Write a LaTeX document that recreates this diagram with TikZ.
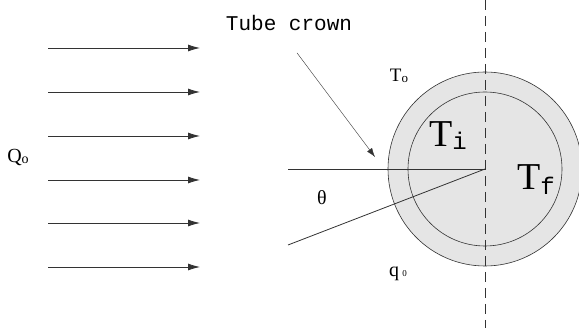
\documentclass[tikz,border=0pt]{standalone}
\usepackage{fontspec}
\setmainfont{Liberation Serif}
\newfontfamily\monofont{Liberation Mono}
\usetikzlibrary{arrows.meta,positioning}

\newcommand{\fsz}[1]{\fontsize{#1}{#1}\selectfont}

\begin{document}
\begin{tikzpicture}[x=1pt,y=-1pt,
    flow/.style={-{Latex[length=12pt,width=7pt]},draw=black!80,thick},
    ray/.style={draw=black!80,thick},
    lbl/.style={inner sep=0pt,font=\fsz{20}}]
  \useasboundingbox (0,0) rectangle (579,328);
  \coordinate (c) at (485,169);
  % tube wall and fluid
  \fill[black!10] (c) circle (97);
  \draw[black!80,semithick] (c) circle (97) (c) circle (77);
  \coordinate (top) at (485,0);
  \coordinate (bot) at (485,328);
  \draw[black!80,semithick,dash pattern=on 10pt off 6pt] (top) -- (bot);
  % incoming solar flux
  \foreach \y [count=\i] in {48,92,136,180,223,267} {
    \coordinate (s\i) at (48,\y);
    \coordinate (e\i) at (200,\y);
    \draw[flow] (s\i) -- (e\i);
  }
  \node[lbl] (Q) at (18,158) {Q\lower1pt\hbox{\fsz{14}o}};
  % angle
  \coordinate (h) at (288,169);
  \coordinate (r) at (288,245);
  \draw[ray] (h) -- (c);
  \draw[ray] (r) -- (c);
  \node[lbl] (theta) at (322,198) {θ};
  % labels
  \node[inner sep=0pt,font=\monofont\fsz{21}] (crown) at (289,23) {Tube crown};
  \coordinate (tip) at (375,157);
  \draw[-{Latex[length=9pt,width=6pt]},draw=black!80] ([xshift=8pt,yshift=-22pt]crown.south) -- (tip);
  \node[lbl,font=\fsz{19}] (To) at (399,76) {T\lower1pt\hbox{\fsz{13}o}};
  \node[inner sep=0pt,font=\fsz{38}] (Ti) at (448,136) {T\lower3pt\hbox{\monofont\fsz{24}i}};
  \node[inner sep=0pt,font=\fsz{38}] (Tf) at (536,180) {T\lower5pt\hbox{\monofont\fsz{24}f}};
  \node[lbl] (q0) at (398,274) {q\,\hbox{\fsz{9}0}};
\end{tikzpicture}
\end{document}
